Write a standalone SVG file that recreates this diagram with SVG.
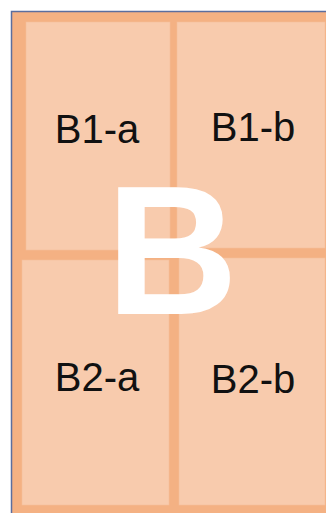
<svg xmlns="http://www.w3.org/2000/svg" width="326" height="513" viewBox="0 0 326 513">
<style>
.cell{fill:#F8CBAD;stroke:#F5BF9A;stroke-width:0.6}
.lbl{font-family:"Liberation Sans",Arial,sans-serif;font-size:40px;fill:#111;text-anchor:middle}
.big{font-family:"Liberation Sans",Arial,sans-serif;font-size:183px;font-weight:bold;fill:#fff;text-anchor:middle}
</style>
<rect x="0" y="0" width="326" height="513" fill="#fff"/>
<g id="outer">
<rect x="11.5" y="11.5" width="330" height="520" fill="#F4B183" stroke="#5B6E9E" stroke-width="1.5"/>
</g>
<g id="B1-a"><rect class="cell" x="26" y="22" width="144" height="228"/><text class="lbl" x="97" y="143">B1-a</text></g>
<g id="B1-b"><rect class="cell" x="177" y="22" width="148" height="226"/><text class="lbl" x="253" y="141">B1-b</text></g>
<g id="B2-a"><rect class="cell" x="22" y="260" width="147" height="245"/><text class="lbl" x="97" y="391">B2-a</text></g>
<g id="B2-b"><rect class="cell" x="179" y="258" width="146" height="247"/><text class="lbl" x="253" y="393">B2-b</text></g>
<g id="title"><text class="big" x="172" y="314">B</text></g>
<g id="connectors"></g>
</svg>
